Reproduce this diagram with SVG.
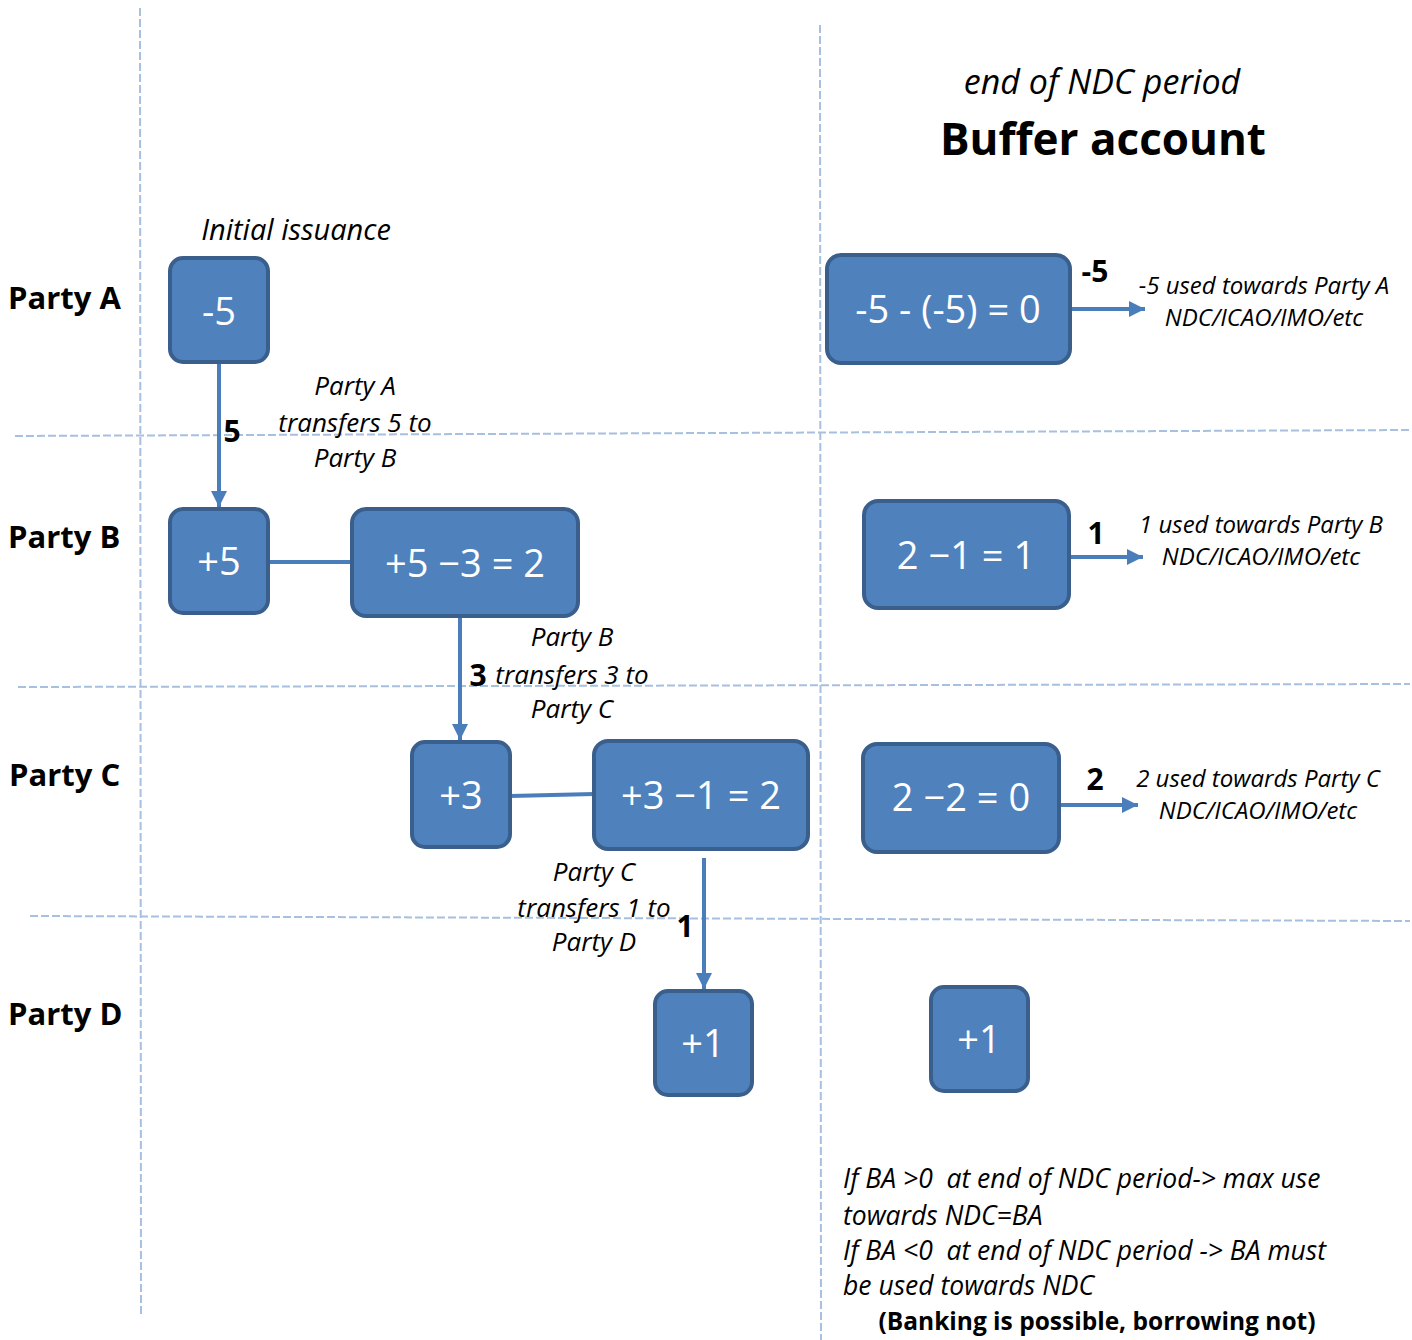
<svg xmlns="http://www.w3.org/2000/svg" width="1412" height="1340" viewBox="0 0 1412 1340">
<defs>
<style>
.grid{stroke:#a7c0df;stroke-width:2;stroke-dasharray:8 3;fill:none}
.box{fill:#4f81bd;stroke:#3a5f8c;stroke-width:4}
.bt{font-family:"Open Sans",sans-serif;fill:#ffffff;font-size:38px;text-anchor:middle}
.con{stroke:#4a7ebb;stroke-width:4;fill:none}
.it{font-family:"Open Sans",sans-serif;font-style:italic;fill:#000;text-anchor:middle}
.itl{font-family:"Open Sans",sans-serif;font-style:italic;fill:#000;text-anchor:start;white-space:pre}
.bd{font-family:"Open Sans",sans-serif;font-weight:bold;fill:#000}
.mid{text-anchor:middle}
</style>
<marker id="ah" viewBox="0 0 10 10" refX="10" refY="5" markerWidth="4" markerHeight="4" orient="auto" markerUnits="strokeWidth">
<path d="M0,0 L10,5 L0,10 z" fill="#4a7ebb"/>
</marker>
</defs>
<rect width="1412" height="1340" fill="#ffffff"/>
<g id="gridlines">
<line class="grid" x1="140" y1="8" x2="141" y2="1315"/>
<line class="grid" x1="820" y1="25" x2="821" y2="1340"/>
<line class="grid" x1="15" y1="436" x2="1410" y2="430"/>
<line class="grid" x1="18" y1="687" x2="1410" y2="684"/>
<line class="grid" x1="30" y1="916" x2="1410" y2="921"/>
</g>
<g id="titles">
<text class="it" x="1102" y="94" font-size="34">end of NDC period</text>
<text class="bd mid" x="1103" y="155" font-size="44">Buffer account</text>
<text class="it" x="296" y="240" font-size="29">Initial issuance</text>
</g>
<g id="party-labels">
<text class="bd" x="8" y="309" font-size="31">Party A</text>
<text class="bd" x="8" y="548" font-size="31">Party B</text>
<text class="bd" x="9" y="786" font-size="31">Party C</text>
<text class="bd" x="8" y="1025" font-size="31">Party D</text>
</g>
<g id="connectors">
<line class="con" x1="219" y1="362" x2="219" y2="507" marker-end="url(#ah)"/>
<line class="con" x1="268" y1="562" x2="352" y2="562"/>
<line class="con" x1="460" y1="616" x2="460" y2="740" marker-end="url(#ah)"/>
<line class="con" x1="510" y1="796" x2="594" y2="794"/>
<line class="con" x1="704" y1="858" x2="704" y2="989" marker-end="url(#ah)"/>
<line class="con" x1="1070" y1="309" x2="1145" y2="309" marker-end="url(#ah)"/>
<line class="con" x1="1069" y1="557" x2="1143" y2="557" marker-end="url(#ah)"/>
<line class="con" x1="1059" y1="805" x2="1138" y2="805" marker-end="url(#ah)"/>
</g>
<g id="connector-labels">
<text class="bd mid" x="232" y="442" font-size="30">5</text>
<text class="it" x="355" y="395" font-size="26">Party A</text>
<text class="it" x="355" y="432" font-size="26">transfers 5 to</text>
<text class="it" x="355" y="467" font-size="26">Party B</text>
<text class="bd mid" x="478" y="686" font-size="30">3</text>
<text class="it" x="572" y="646" font-size="26">Party B</text>
<text class="it" x="572" y="684" font-size="26">transfers 3 to</text>
<text class="it" x="572" y="718" font-size="26">Party C</text>
<text class="bd mid" x="685" y="937" font-size="30">1</text>
<text class="it" x="594" y="881" font-size="26">Party C</text>
<text class="it" x="594" y="917" font-size="26">transfers 1 to</text>
<text class="it" x="594" y="951" font-size="26">Party D</text>
<text class="bd mid" x="1095" y="282" font-size="30">-5</text>
<text class="it" x="1264" y="294" font-size="24">-5 used towards Party A</text>
<text class="it" x="1264" y="326" font-size="24">NDC/ICAO/IMO/etc</text>
<text class="bd mid" x="1096" y="544" font-size="30">1</text>
<text class="it" x="1261" y="533" font-size="24">1 used towards Party B</text>
<text class="it" x="1261" y="565" font-size="24">NDC/ICAO/IMO/etc</text>
<text class="bd mid" x="1095" y="790" font-size="30">2</text>
<text class="it" x="1258" y="787" font-size="24">2 used towards Party C</text>
<text class="it" x="1258" y="819" font-size="24">NDC/ICAO/IMO/etc</text>
</g>
<g id="node-a1"><rect class="box" x="170" y="258" width="98" height="104" rx="13"/><text class="bt" x="219" y="325">-5</text></g>
<g id="node-b1"><rect class="box" x="170" y="509" width="98" height="104" rx="13"/><text class="bt" x="219" y="575">+5</text></g>
<g id="node-b2"><rect class="box" x="352" y="509" width="226" height="107" rx="14"/><text class="bt" x="465" y="577">+5 −3 = 2</text></g>
<g id="node-c1"><rect class="box" x="412" y="742" width="98" height="105" rx="13"/><text class="bt" x="461" y="809">+3</text></g>
<g id="node-c2"><rect class="box" x="594" y="741" width="214" height="108" rx="14"/><text class="bt" x="701" y="809">+3 −1 = 2</text></g>
<g id="node-d1"><rect class="box" x="655" y="991" width="97" height="104" rx="13"/><text class="bt" x="703" y="1057">+1</text></g>
<g id="node-ba-a"><rect class="box" x="827" y="255" width="243" height="108" rx="14"/><text class="bt" x="948" y="323">-5 - (-5) = 0</text></g>
<g id="node-ba-b"><rect class="box" x="864" y="501" width="205" height="107" rx="14"/><text class="bt" x="966" y="569">2 −1 = 1</text></g>
<g id="node-ba-c"><rect class="box" x="863" y="744" width="196" height="108" rx="14"/><text class="bt" x="961" y="811">2 −2 = 0</text></g>
<g id="node-ba-d"><rect class="box" x="931" y="987" width="97" height="104" rx="13"/><text class="bt" x="979" y="1053">+1</text></g>
<g id="notes">
<text class="itl" x="843" y="1188" font-size="26.5">If BA &gt;0  at end of NDC period-&gt; max use</text>
<text class="itl" x="843" y="1225" font-size="26.5">towards NDC=BA</text>
<text class="itl" x="843" y="1260" font-size="26.5">If BA &lt;0  at end of NDC period -&gt; BA must</text>
<text class="itl" x="843" y="1295" font-size="26.5">be used towards NDC</text>
<text class="bd mid" x="1097" y="1330" font-size="24.5">(Banking is possible, borrowing not)</text>
</g>
</svg>
